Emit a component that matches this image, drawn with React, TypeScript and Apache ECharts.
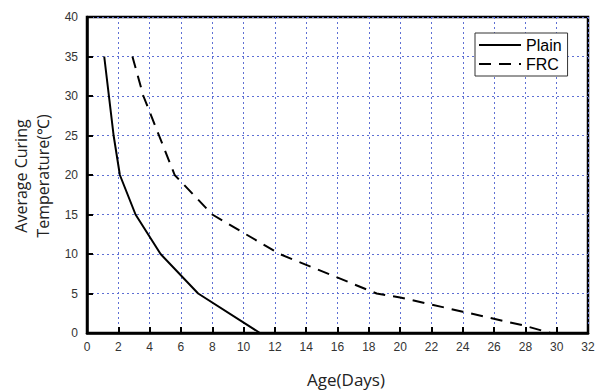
import React, { useEffect, useRef } from "react";
import * as echarts from "echarts";

const plainData: [number, number][] = [
  [1.1, 35], [1.4, 30], [1.7, 25], [2.1, 20], [3.1, 15], [4.7, 10], [7.1, 5], [11.05, 0],
];
const frcData: [number, number][] = [
  [2.9, 35], [3.6, 30], [4.6, 25], [5.6, 20], [8.0, 15], [12.3, 10], [18.5, 5],
  [20, 4.5], [24, 2.7], [28, 0.9], [29.6, 0],
];
const seriesNames = ["Plain", "FRC"];
const xTitle = "Age(Days)";
const yTitle = "Average Curing\nTemperature(℃)";

export default function App() {
  const ref = useRef<HTMLDivElement>(null);
  useEffect(() => {
    if (!ref.current) return;
    const chart = echarts.init(ref.current, undefined, { renderer: "svg" });
    const gridLine = { show: true, lineStyle: { color: "#5f70d4", width: 1, type: [2, 3] as any } };
    chart.setOption({
      animation: false,
      backgroundColor: "#fff",
      grid: { left: 87, right: 12, top: 17, bottom: 58, show: true, borderColor: "#000", borderWidth: 2.5, backgroundColor: "transparent" },
      legend: {
        orient: "vertical",
        left: 475,
        top: 33,
        width: 94,
        backgroundColor: "#fff",
        borderColor: "#333",
        borderWidth: 1,
        padding: [4, 6, 4, 3],
        itemGap: 3,
        itemWidth: 42,
        itemHeight: 14,
        itemStyle: { opacity: 0 },
        data: seriesNames,
        textStyle: { fontFamily: "Liberation Sans", fontSize: 16, color: "#000" },
      },
      graphic: [
        {
          type: "text",
          x: 346,
          y: 379,
          style: { text: xTitle, align: "center", verticalAlign: "middle", font: "17px 'Open Sans'", fill: "#222" },
        },
        {
          type: "text",
          x: 32,
          y: 176,
          rotation: Math.PI / 2,
          style: { text: yTitle, align: "center", verticalAlign: "middle", font: "16px 'Open Sans'", lineHeight: 22, fill: "#222" },
        },
      ],
      xAxis: {
        type: "value",
        min: 0,
        max: 32,
        interval: 2,
        axisLine: { show: true, lineStyle: { color: "#000", width: 2.5 } },
        axisTick: { show: true, inside: true, length: 6, lineStyle: { color: "#000", width: 2 } },
        axisLabel: { fontFamily: "Liberation Sans", fontSize: 12, color: "#333", margin: 8 },
        splitLine: gridLine,
      },
      yAxis: {
        type: "value",
        min: 0,
        max: 40,
        interval: 5,
        axisLine: { show: true, lineStyle: { color: "#000", width: 2.5 } },
        axisTick: { show: true, inside: true, length: 6, lineStyle: { color: "#000", width: 2 } },
        axisLabel: { fontFamily: "Liberation Sans", fontSize: 12, color: "#333", margin: 9 },
        splitLine: gridLine,
      },
      series: [
        {
          name: seriesNames[0],
          type: "line",
          data: plainData,
          symbol: "none",
          lineStyle: { color: "#000", width: 2, type: "solid" },
          itemStyle: { color: "#000" },
        },
        {
          name: seriesNames[1],
          type: "line",
          data: frcData,
          symbol: "none",
          lineStyle: { color: "#000", width: 2, type: [12, 8] },
          itemStyle: { color: "#000" },
        },
      ],
    });
    return () => chart.dispose();
  }, []);
  return <div ref={ref} style={{ width: 600, height: 391, position: "fixed", left: 0, top: 0 }} />;
}
